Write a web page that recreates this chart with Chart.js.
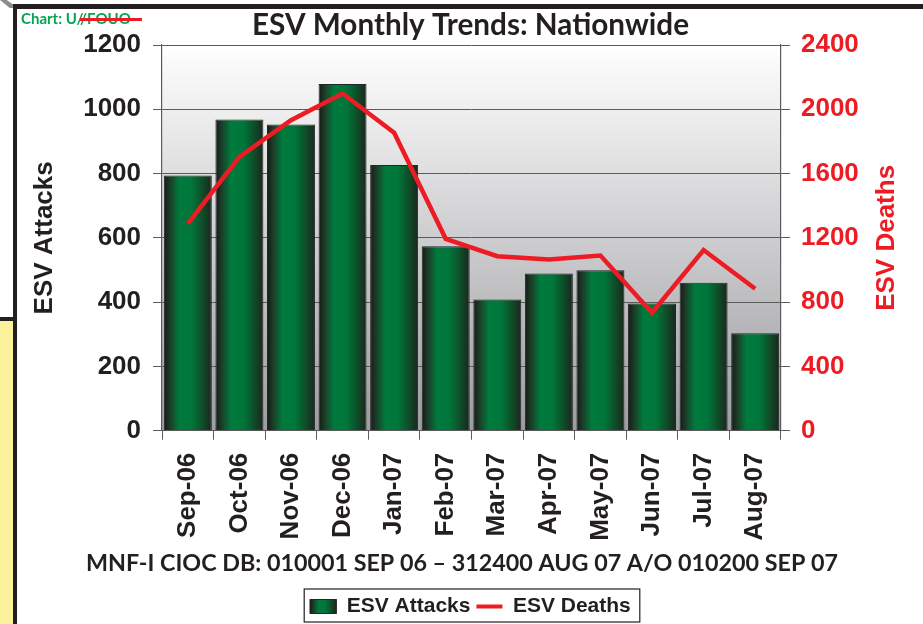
<!DOCTYPE html>
<html>
<head>
<meta charset="utf-8">
<title>ESV Monthly Trends: Nationwide</title>
<script src="https://cdn.jsdelivr.net/npm/chart.js@4.4.0/dist/chart.umd.min.js"></script>
<style>
    html, body { margin: 0; padding: 0; background: #fff; width: 923px; height: 624px; overflow: hidden; }
    /* briefing slide frame bits */
    #frame-corner { position: absolute; left: 0; top: 0; width: 15px; height: 8px; background: #8c8c8c;
                    clip-path: polygon(0 0, 45% 0, 100% 75%, 100% 100%, 65% 100%); }
    #frame-top { position: absolute; left: 13px; top: 4px; width: 910px; height: 5px; background: #231f20; }
    #frame-left { position: absolute; left: 13px; top: 4px; width: 4px; height: 620px; background: #231f20; }
    #side-note { position: absolute; left: 0; top: 321px; width: 13px; height: 303px; background: #faf39b; }
    #side-rule { position: absolute; left: 0; top: 317px; width: 14px; height: 4px; background: #231f20; }
    #chart-wrap { position: absolute; left: 18px; top: 9px; width: 905px; height: 618px; }
    #marking { position: absolute; left: 21px; top: 9px; line-height: 18px; font: bold 15px Lato, sans-serif; color: #00a651; }
    #strike { position: absolute; left: 80px; top: 18px; width: 62px; height: 3px; background: #ed1c24; }
</style>
</head>
<body>
<div id="frame-corner"></div>
<div id="side-note"></div>
<div id="side-rule"></div>
<div id="frame-left"></div>
<div id="frame-top"></div>
<div id="chart-wrap"><canvas id="esvChart"></canvas></div>
<div id="marking">Chart: U//FOUO</div>
<div id="strike"></div>

<script>
// ESV monthly trends - attacks (bars, left axis) vs deaths (line, right axis)

const months = ['Sep-06', 'Oct-06', 'Nov-06', 'Dec-06', 'Jan-07', 'Feb-07',
                'Mar-07', 'Apr-07', 'May-07', 'Jun-07', 'Jul-07', 'Aug-07'];
const attacks = [794, 968, 953, 1079, 827, 574, 408, 489, 499, 396, 460, 303];
const deaths = [1288, 1704, 1932, 2098, 1854, 1194, 1086, 1066, 1090, 734, 1124, 883];
const attackTicks = [0, 200, 400, 600, 800, 1000, 1200];
const deathTicks = [0, 400, 800, 1200, 1600, 2000, 2400];

const DARK = '#231f20';
const RED = '#ed1c24';
const AXIS_GREY = '#5b5b5b';
const BAR_FRACTION = 0.93;
const SWATCH_W = 26;
const ARIAL = "'Liberation Sans', Arial, sans-serif";

Chart.defaults.font.family = ARIAL;

// Horizontal "cylinder" shading for each bar, dark edges and green middle
function cylinderGradient(ctx, x0, x1) {
    const g = ctx.createLinearGradient(x0, 0, x1, 0);
    g.addColorStop(0, '#101c14');
    g.addColorStop(0.12, '#1d3a27');
    g.addColorStop(0.32, '#007a3d');
    g.addColorStop(0.58, '#00763a');
    g.addColorStop(0.82, '#0f4a27');
    g.addColorStop(1, '#1b261e');
    return g;
}

function barFill(context) {
    const chart = context.chart;
    const xScale = chart.scales.x;
    if (!xScale || context.dataIndex === undefined) return '#00753a';
    const cx = xScale.getPixelForValue(context.dataIndex);
    const half = (xScale.width / months.length) * BAR_FRACTION / 2;
    return cylinderGradient(chart.ctx, cx - half, cx + half);
}

// Grey-to-white backdrop behind the plot
const plotBackdrop = {
    id: 'plotBackdrop',
    beforeDraw(chart) {
        const { ctx, chartArea: a } = chart;
        const g = ctx.createLinearGradient(0, a.top, 0, a.bottom);
        g.addColorStop(0, '#ffffff');
        g.addColorStop(1, '#9c9ca1');
        ctx.save();
        ctx.fillStyle = g;
        ctx.fillRect(a.left, a.top, a.right - a.left, a.bottom - a.top);
        ctx.restore();
    }
};

// Right axis title reads bottom-to-top in the original, so the axis only
// reserves the room (transparent title) and this paints the visible one
const deathsTitle = {
    id: 'deathsTitle',
    afterDraw(chart) {
        const { ctx, chartArea: a } = chart;
        const s = chart.scales.y1;
        ctx.save();
        ctx.translate(s.right - 20.4 - 15.6, (a.top + a.bottom) / 2);
        ctx.rotate(-Math.PI / 2);
        ctx.font = 'bold 26px ' + ARIAL;
        ctx.fillStyle = RED;
        ctx.textAlign = 'center';
        ctx.textBaseline = 'middle';
        ctx.fillText(s.options.title.text, 0, 0);
        ctx.restore();
    }
};

// Box around the legend + shaded swatch for the bar entry
const legendFrame = {
    id: 'legendFrame',
    afterDraw(chart) {
        const boxes = chart.legend && chart.legend.legendHitBoxes;
        if (!boxes || !boxes.length) return;
        const ctx = chart.ctx;
        const first = boxes[0];
        const last = boxes[boxes.length - 1];
        const left = first.left - 6;
        const right = last.left + last.width + 9;
        const top = first.top - 7;
        const bottom = first.top + first.height + 5;

        ctx.save();
        ctx.strokeStyle = DARK;
        ctx.lineWidth = 1.2;
        ctx.strokeRect(left, top, right - left, bottom - top);

        const yc = first.top + first.height / 2;
        ctx.fillStyle = cylinderGradient(ctx, first.left, first.left + SWATCH_W);
        ctx.fillRect(first.left, yc - 7, SWATCH_W, 14);
        ctx.strokeStyle = '#262626';
        ctx.lineWidth = 1;
        ctx.strokeRect(first.left, yc - 7, SWATCH_W, 14);
        ctx.restore();
    }
};

const ctx = document.getElementById('esvChart');

new Chart(ctx, {
    data: {
        labels: months,
        datasets: [
            {
                type: 'bar',
                label: 'ESV Attacks',
                data: attacks,
                yAxisID: 'y',
                order: 1,
                backgroundColor: barFill,
                borderColor: '#262626',
                borderWidth: 1,
                barPercentage: BAR_FRACTION,
                categoryPercentage: 1.0
            },
            {
                type: 'line',
                label: 'ESV Deaths',
                data: deaths,
                yAxisID: 'y1',
                order: 0,
                borderColor: RED,
                borderWidth: 4.5,
                borderJoinStyle: 'miter',
                pointRadius: 0,
                tension: 0,
                fill: false
            }
        ]
    },
    options: {
        responsive: true,
        maintainAspectRatio: false,
        animation: false,
        events: [],
        layout: { padding: 0 },
        plugins: {
            tooltip: { enabled: false },
            title: {
                display: true,
                text: 'ESV Monthly Trends: Nationwide',
                color: DARK,
                font: { family: 'Lato', size: 29.7, weight: 'bold', lineHeight: 1 },
                padding: { top: 2, bottom: 4.3 }
            },
            subtitle: {
                display: true,
                position: 'bottom',
                weight: 500,
                // trailing no-break spaces nudge the centred line a bit left, as in the source slide
                text: 'MNF-I CIOC DB: 010001 SEP 06 \u2013 312400 AUG 07 A/O 010200 SEP 07\u00a0\u00a0\u00a0',
                color: DARK,
                font: { family: 'Lato', size: 23.3, weight: 'bold', lineHeight: 0.8 },
                padding: { top: 0, bottom: 17.5 }
            },
            legend: {
                position: 'bottom',
                weight: 1000,
                labels: {
                    usePointStyle: true,
                    pointStyleWidth: SWATCH_W,
                    boxHeight: 14,
                    padding: 6,
                    color: DARK,
                    font: { size: 21, weight: 'bold' },
                    generateLabels(chart) {
                        const ds = chart.data.datasets;
                        return [
                            { text: ds[0].label, datasetIndex: 0, pointStyle: 'rect',
                              fillStyle: '#00753a', strokeStyle: '#262626', lineWidth: 1, fontColor: DARK },
                            { text: ds[1].label, datasetIndex: 1, pointStyle: 'line',
                              fillStyle: RED, strokeStyle: RED, lineWidth: 4, fontColor: DARK }
                        ];
                    }
                }
            }
        },
        scales: {
            x: {
                grid: {
                    offset: true,
                    drawOnChartArea: false,
                    drawTicks: true,
                    tickLength: 9,
                    color: AXIS_GREY
                },
                border: { display: true, color: AXIS_GREY, width: 1 },
                ticks: {
                    autoSkip: false,
                    minRotation: 90,
                    maxRotation: 90,
                    padding: 13,
                    color: DARK,
                    font: { size: 26, weight: 'bold' }
                }
            },
            y: {
                position: 'left',
                min: attackTicks[0],
                max: attackTicks[attackTicks.length - 1],
                afterBuildTicks: axis => { axis.ticks = attackTicks.map(v => ({ value: v })); },
                grid: { color: AXIS_GREY, lineWidth: 1, tickLength: 9 },
                border: { color: AXIS_GREY, width: 1.2 },
                ticks: {
                    padding: 12,
                    color: DARK,
                    font: { size: 26, weight: 'bold' },
                    callback: v => String(v)
                },
                title: {
                    display: true,
                    text: 'ESV Attacks',
                    color: DARK,
                    font: { size: 26, weight: 'bold', lineHeight: 1.2 },
                    padding: { top: 11.4, bottom: 10.6 }
                }
            },
            y1: {
                position: 'right',
                min: deathTicks[0],
                max: deathTicks[deathTicks.length - 1],
                afterBuildTicks: axis => { axis.ticks = deathTicks.map(v => ({ value: v })); },
                grid: { drawOnChartArea: false, color: AXIS_GREY, tickLength: 9 },
                border: { color: AXIS_GREY, width: 1.2 },
                ticks: {
                    padding: 11,
                    color: RED,
                    font: { size: 26, weight: 'bold' },
                    callback: v => String(v)
                },
                title: {
                    display: true,
                    text: 'ESV Deaths',
                    color: 'rgba(0,0,0,0)',
                    font: { size: 26, weight: 'bold', lineHeight: 1.2 },
                    padding: { top: 20.4, bottom: 1.6 }
                }
            }
        }
    },
    plugins: [plotBackdrop, deathsTitle, legendFrame]
});
</script>
</body>
</html>
